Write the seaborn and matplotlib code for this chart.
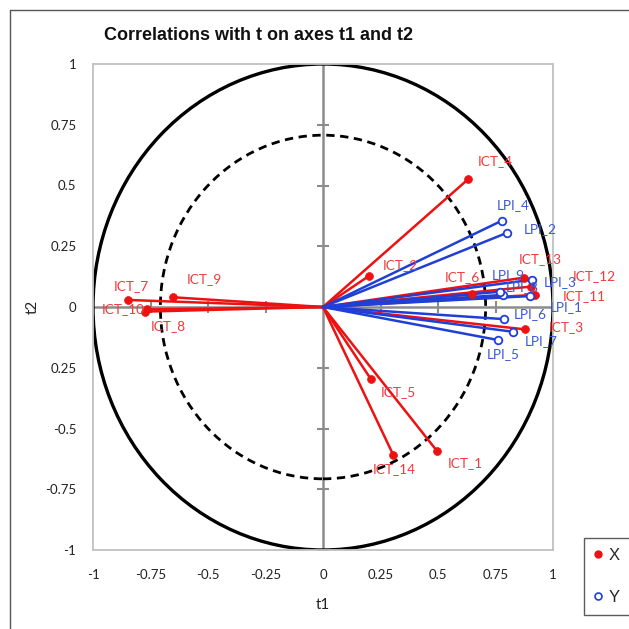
import matplotlib
matplotlib.use("Agg")
import matplotlib.pyplot as plt
import matplotlib.patches as mpatches
from matplotlib.lines import Line2D
import numpy as np
import pandas as pd
import seaborn as sns

# ---------------- data ----------------
x_names = ["ICT_1", "ICT_2", "ICT_3", "ICT_4", "ICT_5", "ICT_6", "ICT_7",
           "ICT_8", "ICT_9", "ICT_10", "ICT_11", "ICT_12", "ICT_13", "ICT_14"]
x_t1 = [0.496, 0.200, 0.878, 0.630, 0.209, 0.649, -0.847,
        -0.767, -0.651, -0.774, 0.922, 0.904, 0.874, 0.306]
x_t2 = [-0.593, 0.128, -0.092, 0.525, -0.298, 0.052, 0.029,
        -0.010, 0.040, -0.019, 0.050, 0.084, 0.121, -0.610]

y_names = ["LPI_1", "LPI_2", "LPI_3", "LPI_4", "LPI_5", "LPI_6", "LPI_7", "LPI_8", "LPI_9"]
y_t1 = [0.900, 0.799, 0.907, 0.777, 0.762, 0.788, 0.827, 0.784, 0.770]
y_t2 = [0.045, 0.305, 0.112, 0.355, -0.136, -0.050, -0.102, 0.050, 0.063]

xticks = [-1, -0.75, -0.5, -0.25, 0, 0.25, 0.5, 0.75, 1]
xtick_labels = ["-1", "-0.75", "-0.5", "-0.25", "0", "0.25", "0.5", "0.75", "1"]
yticks = [1, 0.75, 0.5, 0.25, 0, -0.25, -0.5, -0.75, -1]
ytick_labels = ["1", "0.75", "0.5", "0.25", "0", "0.25", "-0.5", "-0.75", "-1"]

title = "Correlations with t on axes t1 and t2"
series_names = ["X", "Y"]

# label offsets in pixels (style only)
label_offsets = {
    "ICT_1": (28, -12), "ICT_2": (31, 11), "ICT_3": (41, 2), "ICT_4": (27, 18),
    "ICT_5": (27, -13), "ICT_6": (-10, 17), "ICT_7": (3, 14), "ICT_8": (22, -17),
    "ICT_9": (31, 18), "ICT_10": (-22, 3), "ICT_11": (49, -1), "ICT_12": (63, 11),
    "ICT_13": (16, 19), "ICT_14": (1, -14),
    "LPI_1": (36, -11), "LPI_2": (33, 4), "LPI_3": (29, -2), "LPI_4": (11, 16),
    "LPI_5": (5, -14), "LPI_6": (26, 5), "LPI_7": (28, -9), "LPI_8": (19, 8),
    "LPI_9": (8, 17),
}

# ---------------- build frames ----------------
rows = []
for n, a, b in zip(x_names, x_t1, x_t2):
    rows.append((n, "X", 0.0, 0.0))
    rows.append((n, "X", a, b))
for n, a, b in zip(y_names, y_t1, y_t2):
    rows.append((n, "Y", 0.0, 0.0))
    rows.append((n, "Y", a, b))
lines_df = pd.DataFrame(rows, columns=["var", "group", "t1", "t2"])
xdf = pd.DataFrame({"var": x_names, "t1": x_t1, "t2": x_t2})
ydf = pd.DataFrame({"var": y_names, "t1": y_t1, "t2": y_t2})

RED = "#ee1111"
BLUE = "#1f3fd6"
RED_TXT = "#f03a3a"
BLUE_TXT = "#3a58d8"

sns.set_style("white")
plt.rcParams["font.family"] = ["Lato", "DejaVu Sans"]

W = H = 629
fig = plt.figure(figsize=(W / 100, H / 100), dpi=100)
ax = fig.add_axes([93 / W, 1 - 550 / H, (553 - 93) / W, (550 - 64) / H])
ax.set_xlim(-1, 1)
ax.set_ylim(-1, 1)

# circles
ax.add_patch(mpatches.Circle((0, 0), 1.0, fill=False, ec="black", lw=2.4, zorder=2))
ax.add_patch(mpatches.Circle((0, 0), np.sqrt(0.5), fill=False, ec="black", lw=2.0,
                             ls=(0, (3, 2)), zorder=2))

# zero axes
ax.axhline(0, color="#8c8c8c", lw=1.8, zorder=1)
ax.axvline(0, color="#8c8c8c", lw=1.8, zorder=1)
tick_vals = [t for t in xticks if t != 0]
ax.plot(tick_vals, [0] * len(tick_vals), ls="none", marker="|", ms=8, mew=1.5,
        color="#8c8c8c", zorder=1)
ax.plot([0] * len(tick_vals), tick_vals, ls="none", marker="_", ms=8, mew=1.5,
        color="#8c8c8c", zorder=1)

# vectors
sns.lineplot(data=lines_df, x="t1", y="t2", units="var", estimator=None,
             hue="group", palette={"X": RED, "Y": BLUE}, sort=False,
             legend=False, lw=1.8, ax=ax, zorder=3)
sns.scatterplot(data=xdf, x="t1", y="t2", color=RED, s=32, edgecolor=RED,
                linewidth=0.5, ax=ax, zorder=4, legend=False)
sns.scatterplot(data=ydf, x="t1", y="t2", color="white", s=30, edgecolor=BLUE,
                linewidth=1.3, ax=ax, zorder=4, legend=False)

# labels
for n, a, b in zip(x_names, x_t1, x_t2):
    ax.annotate(n, (a, b), xytext=label_offsets[n], textcoords="offset pixels",
                ha="center", va="center", fontsize=9.8, color=RED_TXT, zorder=5)
for n, a, b in zip(y_names, y_t1, y_t2):
    ax.annotate(n, (a, b), xytext=label_offsets[n], textcoords="offset pixels",
                ha="center", va="center", fontsize=9.8, color=BLUE_TXT, zorder=5)

# axes styling
ax.set_xticks(xticks)
ax.set_xticklabels(xtick_labels)
ax.set_yticks(yticks)
ax.set_yticklabels(ytick_labels)
ax.tick_params(length=0, labelsize=9.5, colors="#222222")
ax.tick_params(axis="x", pad=14)
ax.tick_params(axis="y", pad=12)
for s in ax.spines.values():
    s.set_color("#c0c0c0")
    s.set_linewidth(1.3)
ax.set_xlabel("t1", fontsize=11, color="#222222", labelpad=12)
ax.set_ylabel("t2", fontsize=11, color="#222222", labelpad=4)

# title
fig.text(258 / W, 1 - 36 / H, title, ha="center", va="center",
         fontsize=13, fontweight="bold", family="Liberation Sans", color="#111111")

# chart-area border
fig.add_artist(Line2D([10 / W, 10 / W], [1 - 10 / H, -0.1], transform=fig.transFigure,
                      color="#555555", lw=1.0))
fig.add_artist(Line2D([10 / W, 1.1], [1 - 10 / H, 1 - 10 / H], transform=fig.transFigure,
                      color="#555555", lw=1.0))

# legend
handles = [
    Line2D([], [], ls="none", marker="o", ms=5, color=RED, mec=RED),
    Line2D([], [], ls="none", marker="o", ms=5, mfc="white", mec=BLUE, mew=1.2),
]
leg = fig.legend(handles, series_names, loc="upper left",
                 bbox_to_anchor=(584 / W, 1 - 538 / H), bbox_transform=fig.transFigure,
                 frameon=True, fancybox=False, edgecolor="#333333", handlelength=0.5,
                 handletextpad=0.4, labelspacing=1.6, borderpad=0.6, borderaxespad=0,
                 prop={"family": "Liberation Sans", "size": 12})
leg.get_frame().set_linewidth(1.0)

fig.savefig("out.png", dpi=100, facecolor="white")
